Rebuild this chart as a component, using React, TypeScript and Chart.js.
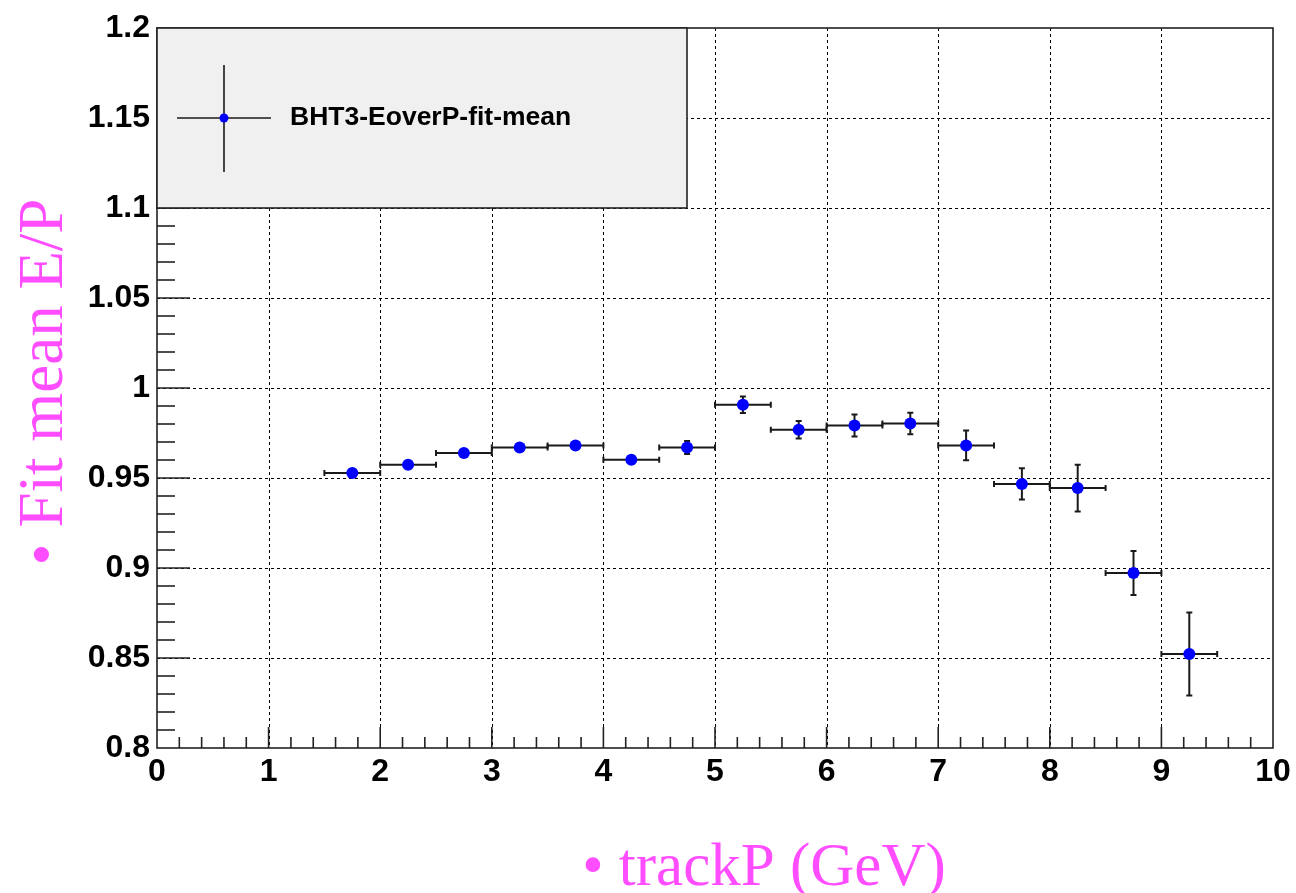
import React, { useEffect, useRef } from "react";
import { Chart, registerables } from "chart.js";

Chart.register(...registerables);

// ---- data ----
const binCenters = [1.75, 2.25, 2.75, 3.25, 3.75, 4.25, 4.75, 5.25, 5.75, 6.25, 6.75, 7.25, 7.75, 8.25, 8.75, 9.25];
const binHalfWidths = [0.25, 0.25, 0.25, 0.25, 0.25, 0.25, 0.25, 0.25, 0.25, 0.25, 0.25, 0.25, 0.25, 0.25, 0.25, 0.25];
const fitMean = [0.9528, 0.9574, 0.9639, 0.967, 0.9681, 0.9602, 0.967, 0.9907, 0.9768, 0.9792, 0.9803, 0.9681, 0.9467, 0.9444, 0.8972, 0.8522];
const fitMeanErr = [0.0015, 0.0015, 0.0015, 0.0015, 0.0015, 0.0015, 0.0036, 0.0046, 0.0049, 0.0061, 0.006, 0.0083, 0.0087, 0.013, 0.0122, 0.0231];

const xTicks = [0, 1, 2, 3, 4, 5, 6, 7, 8, 9, 10];
const xTickLabels = ["0", "1", "2", "3", "4", "5", "6", "7", "8", "9", "10"];
const yTicks = [0.8, 0.85, 0.9, 0.95, 1.0, 1.05, 1.1, 1.15, 1.2];
const yTickLabels = ["0.8", "0.85", "0.9", "0.95", "1", "1.05", "1.1", "1.15", "1.2"];
const xMinorDivisions = 5;
const yMinorDivisions = 5;

const seriesLabel = "BHT3-EoverP-fit-mean";
const xTitle = "\u2022 trackP (GeV)";
const yTitle = "\u2022 Fit mean E/P";

const MAGENTA = "#ff4dff";
const INK = "#1a1a1a";

const rootPlugin = {
  id: "rootStyle",
  beforeDatasetsDraw(chart: any) {
    const { ctx, chartArea: a, scales } = chart;
    const xs = scales.x;
    const ys = scales.y;
    ctx.save();
    // dashed grid
    ctx.strokeStyle = "#000";
    ctx.lineWidth = 1;
    ctx.setLineDash([3, 3]);
    xTicks.forEach((v) => {
      const px = Math.round(xs.getPixelForValue(v)) + 0.5;
      if (px <= a.left + 1 || px >= a.right - 1) return;
      ctx.beginPath();
      ctx.moveTo(px, a.top);
      ctx.lineTo(px, a.bottom);
      ctx.stroke();
    });
    yTicks.forEach((v) => {
      const py = Math.round(ys.getPixelForValue(v)) + 0.5;
      if (py <= a.top + 1 || py >= a.bottom - 1) return;
      ctx.beginPath();
      ctx.moveTo(a.left, py);
      ctx.lineTo(a.right, py);
      ctx.stroke();
    });
    ctx.setLineDash([]);

    // inward ticks
    ctx.strokeStyle = "#222";
    ctx.lineWidth = 1.6;
    for (let i = 0; i < xTicks.length; i++) {
      const v = xTicks[i];
      const px = xs.getPixelForValue(v);
      if (i > 0 && i < xTicks.length - 1) {
        ctx.beginPath();
        ctx.moveTo(px, a.bottom);
        ctx.lineTo(px, a.bottom - 21);
        ctx.stroke();
      }
      if (i < xTicks.length - 1) {
        const step = (xTicks[i + 1] - v) / xMinorDivisions;
        for (let k = 1; k < xMinorDivisions; k++) {
          const mx = xs.getPixelForValue(v + k * step);
          ctx.beginPath();
          ctx.moveTo(mx, a.bottom);
          ctx.lineTo(mx, a.bottom - 11);
          ctx.stroke();
        }
      }
    }
    for (let i = 0; i < yTicks.length; i++) {
      const v = yTicks[i];
      const py = ys.getPixelForValue(v);
      if (i > 0 && i < yTicks.length - 1) {
        ctx.beginPath();
        ctx.moveTo(a.left, py);
        ctx.lineTo(a.left + 33, py);
        ctx.stroke();
      }
      if (i < yTicks.length - 1) {
        const step = (yTicks[i + 1] - v) / yMinorDivisions;
        for (let k = 1; k < yMinorDivisions; k++) {
          const my = ys.getPixelForValue(v + k * step);
          ctx.beginPath();
          ctx.moveTo(a.left, my);
          ctx.lineTo(a.left + 18, my);
          ctx.stroke();
        }
      }
    }

    // frame
    ctx.strokeStyle = "#222";
    ctx.lineWidth = 1.6;
    ctx.strokeRect(a.left, a.top, a.right - a.left, a.bottom - a.top);

    // error bars
    ctx.strokeStyle = INK;
    ctx.lineWidth = 2;
    const cap = 3;
    binCenters.forEach((x, i) => {
      const y = fitMean[i];
      const px = xs.getPixelForValue(x);
      const py = ys.getPixelForValue(y);
      const x0 = xs.getPixelForValue(x - binHalfWidths[i]);
      const x1 = xs.getPixelForValue(x + binHalfWidths[i]);
      const y0 = ys.getPixelForValue(y - fitMeanErr[i]);
      const y1 = ys.getPixelForValue(y + fitMeanErr[i]);
      ctx.beginPath();
      ctx.moveTo(x0, py);
      ctx.lineTo(x1, py);
      ctx.moveTo(x0, py - cap);
      ctx.lineTo(x0, py + cap);
      ctx.moveTo(x1, py - cap);
      ctx.lineTo(x1, py + cap);
      ctx.moveTo(px, y0);
      ctx.lineTo(px, y1);
      ctx.moveTo(px - cap, y0);
      ctx.lineTo(px + cap, y0);
      ctx.moveTo(px - cap, y1);
      ctx.lineTo(px + cap, y1);
      ctx.stroke();
    });
    ctx.restore();
  },
  afterDatasetsDraw(chart: any) {
    const { ctx, chartArea: a } = chart;
    ctx.save();
    // legend box
    const lx = a.left;
    const ly = a.top;
    const lw = 530;
    const lh = 180;
    ctx.fillStyle = "#f0f0f0";
    ctx.fillRect(lx, ly, lw, lh);
    ctx.strokeStyle = "#222";
    ctx.lineWidth = 1.6;
    ctx.strokeRect(lx, ly, lw, lh);
    // legend symbol
    const cx = lx + 67;
    const cy = ly + 90;
    ctx.strokeStyle = INK;
    ctx.lineWidth = 1.6;
    ctx.beginPath();
    ctx.moveTo(cx - 47, cy);
    ctx.lineTo(cx + 47, cy);
    ctx.moveTo(cx, cy - 53);
    ctx.lineTo(cx, cy + 54);
    ctx.stroke();
    ctx.fillStyle = "#0000ff";
    ctx.beginPath();
    ctx.arc(cx, cy, 4.5, 0, Math.PI * 2);
    ctx.fill();
    // legend text
    ctx.fillStyle = "#000";
    ctx.font = "bold 26.5px 'Liberation Sans', Arial, sans-serif";
    ctx.textAlign = "left";
    ctx.textBaseline = "middle";
    ctx.fillText(seriesLabel, lx + 133, cy);

    // axis titles
    ctx.fillStyle = MAGENTA;
    ctx.font = "61px 'Liberation Serif', 'Times New Roman', serif";
    ctx.textAlign = "center";
    ctx.textBaseline = "alphabetic";
    ctx.fillText(xTitle, 764, 885);

    ctx.font = "63px 'Liberation Serif', 'Times New Roman', serif";
    ctx.translate(62, 382);
    ctx.rotate(-Math.PI / 2);
    ctx.fillText(yTitle, 0, 0);
    ctx.restore();
  },
};

export default function App() {
  const canvasRef = useRef<HTMLCanvasElement | null>(null);

  useEffect(() => {
    const canvas = canvasRef.current;
    if (!canvas) return;
    const chart = new Chart(canvas, {
      type: "scatter",
      data: {
        datasets: [
          {
            label: seriesLabel,
            data: binCenters.map((x, i) => ({ x, y: fitMean[i] })),
            backgroundColor: "#0000ff",
            borderColor: "#0000ff",
            borderWidth: 0,
            pointRadius: 6,
            pointHoverRadius: 6,
            showLine: false,
          },
        ],
      },
      options: {
        animation: false,
        responsive: false,
        devicePixelRatio: 1,
        events: [],
        layout: { padding: { left: 0, top: 28, right: 23, bottom: 0 } },
        plugins: {
          legend: { display: false },
          tooltip: { enabled: false },
          title: { display: false },
        },
        scales: {
          x: {
            type: "linear",
            min: 0,
            max: 10,
            afterBuildTicks: (s: any) => {
              s.ticks = xTicks.map((v) => ({ value: v }));
            },
            afterFit: (s: any) => {
              s.height = 145;
            },
            grid: { display: false, drawTicks: false },
            border: { display: false },
            ticks: {
              autoSkip: false,
              maxRotation: 0,
              padding: 5,
              color: "#000",
              font: { family: "'Liberation Sans', Arial, sans-serif", size: 32, weight: "bold" },
              callback: (_v: any, i: number) => xTickLabels[i],
            },
          },
          y: {
            type: "linear",
            min: 0.8,
            max: 1.2,
            afterBuildTicks: (s: any) => {
              s.ticks = yTicks.map((v) => ({ value: v }));
            },
            afterFit: (s: any) => {
              s.width = 157;
            },
            grid: { display: false, drawTicks: false },
            border: { display: false },
            ticks: {
              autoSkip: false,
              padding: 7,
              color: "#000",
              font: { family: "'Liberation Sans', Arial, sans-serif", size: 32, weight: "bold" },
              callback: (_v: any, i: number) => yTickLabels[i],
            },
          },
        },
      },
      plugins: [rootPlugin],
    } as any);
    return () => chart.destroy();
  }, []);

  return (
    <div style={{ position: "fixed", left: 0, top: 0, width: 1296, height: 893, background: "#fff" }}>
      <canvas ref={canvasRef} width={1296} height={893} style={{ display: "block", width: 1296, height: 893 }} />
    </div>
  );
}
